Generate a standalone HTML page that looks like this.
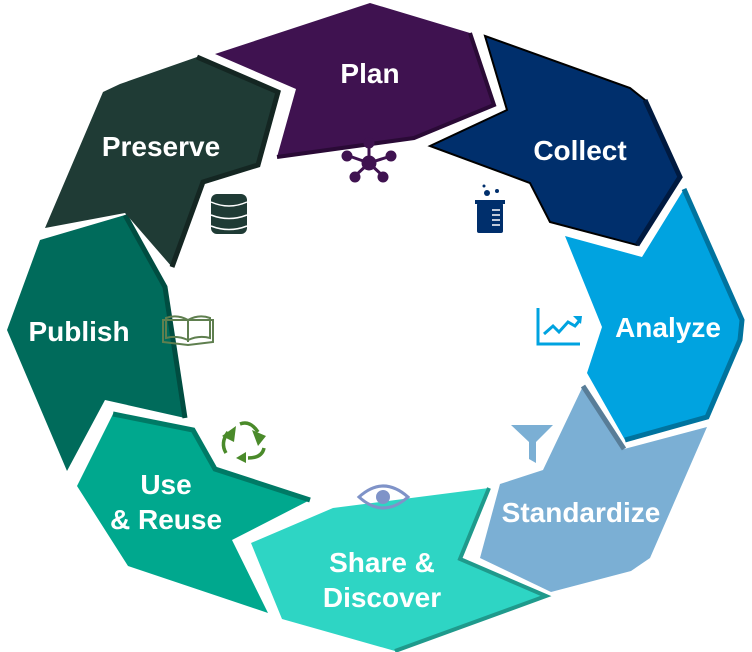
<!DOCTYPE html>
<html><head><meta charset="utf-8"><style>
html,body{margin:0;padding:0;background:#fff;width:752px;height:652px;overflow:hidden}
svg{display:block}
text{font-family:"Liberation Sans",Arial,sans-serif;font-weight:bold;font-size:28px;fill:#fff;text-anchor:middle}
</style></head><body>
<svg width="752" height="652" viewBox="0 0 752 652" xmlns="http://www.w3.org/2000/svg">
<!-- Plan -->
<polygon points="215,54 370,3 470,33 494,105 414,138 277,157 296,89" fill="#3F1250"/>
<polyline points="470,33 494,105 414,138 277,157" fill="none" stroke="#2a0a36" stroke-width="4"/>
<!-- Collect -->
<polygon points="485,36 630,88 645,100 680,177 637,245 550,222 530,183 430,146 507,110" fill="#002F6C" stroke="#000" stroke-width="2"/>
<polyline points="645,100 680,177 637,245" fill="none" stroke="#001a40" stroke-width="5"/>
<!-- Analyze -->
<polygon points="565,236 642,257 684,189 742,320 740,340 707,417 625,440 587,373 602,327" fill="#00A3E0"/>
<polyline points="684,189 742,320 740,340 707,417 625,440" fill="none" stroke="#00739e" stroke-width="5"/>
<!-- Standardize -->
<polygon points="583,386 624,449 707,427 650,558 631,571 551,592 480,558 500,484 543,470" fill="#7BAFD4"/>
<polyline points="583,386 624,449 M707,427 650,558 631,571 551,592" fill="none" stroke="#587d98" stroke-width="5"/>
<!-- Share & Discover -->
<polygon points="251,543 333,508 489,488 460,559 546,596 395,651 282,619" fill="#2ED5C4"/>
<polyline points="489,488 460,559 546,596 395,651" fill="none" stroke="#1f9a8c" stroke-width="4"/>
<!-- Use & Reuse -->
<polygon points="113,414 193,430 215,469 310,500 232,540 268,613 128,566 77,486" fill="#00A88E"/>
<polyline points="113,414 193,430 215,469 310,500 M232,540 268,613" fill="none" stroke="#007a66" stroke-width="5"/>
<!-- Publish -->
<polygon points="40,240 125,215 165,287 185,418 105,400 67,471 7,330" fill="#006B5B"/>
<polyline points="125,215 165,287 185,418 M105,400 67,471" fill="none" stroke="#004d41" stroke-width="5"/>
<!-- Preserve -->
<polygon points="45,228 103,92 120,84 197,57 278,92 258,165 203,182 172,267 125,213" fill="#1F3B35"/>
<polyline points="197,57 278,92 258,165 203,182 172,267 M125,205 45,228" fill="none" stroke="#142622" stroke-width="5"/>

<text x="370" y="83">Plan</text>
<text x="161" y="156">Preserve</text>
<text x="580" y="160">Collect</text>
<text x="79" y="341">Publish</text>
<text x="668" y="337">Analyze</text>
<text x="166" y="494">Use</text>
<text x="166" y="529">&amp; Reuse</text>
<text x="382" y="572">Share &amp;</text>
<text x="382" y="607">Discover</text>
<text x="581" y="522">Standardize</text>

<!-- network icon -->
<g stroke="#3F1250" stroke-width="3" fill="#3F1250">
<line x1="369" y1="163" x2="369" y2="145"/><line x1="369" y1="163" x2="349" y2="156"/><line x1="369" y1="163" x2="391" y2="156"/><line x1="369" y1="163" x2="355" y2="176"/><line x1="369" y1="163" x2="383" y2="176"/>
<circle cx="369" cy="163" r="6"/><circle cx="369" cy="143" r="4"/><circle cx="347" cy="156" r="4"/><circle cx="391" cy="156" r="4"/><circle cx="355" cy="177" r="4"/><circle cx="383" cy="177" r="4"/>
</g>
<!-- database -->
<g fill="#1F3B35"><rect x="211" y="194" width="36" height="40" rx="6"/></g>
<g stroke="#fff" stroke-width="1.5" fill="none"><path d="M211 202 Q229 210 247 202"/><path d="M211 215 Q229 222 247 215"/><path d="M211 226 Q229 233 247 226"/></g>
<!-- beaker -->
<g fill="#002F6C"><rect x="475" y="200" width="30" height="4"/><rect x="477" y="203" width="26" height="30" rx="2"/><circle cx="487" cy="193" r="3"/><circle cx="497" cy="191" r="2"/><circle cx="484" cy="186" r="1.5"/></g>
<g stroke="#fff" stroke-width="1.5"><line x1="492" y1="210" x2="500" y2="210"/><line x1="492" y1="215" x2="500" y2="215"/><line x1="492" y1="220" x2="500" y2="220"/><line x1="492" y1="225" x2="500" y2="225"/></g>
<!-- chart -->
<g fill="none" stroke="#00A3E0" stroke-width="3"><polyline points="538,308 538,344 580,344"/><polyline points="544,334 553,326 559,332 568,322 575,326 580,320"/></g>
<polygon points="573,316 582,316 581,324" fill="#00A3E0"/>
<!-- book -->
<g fill="none" stroke="#5f7f4f" stroke-width="2"><path d="M163 320 L163 342 L188 345 L213 342 L213 320 Z"/><path d="M166 318 Q177 314 188 320 Q199 314 210 318 L210 338 Q199 335 188 340 Q177 335 166 338 Z"/><line x1="188" y1="320" x2="188" y2="342"/></g>
<!-- recycle -->
<g fill="none" stroke="#4a8a2a" stroke-width="3.5"><path d="M226 453 Q220 443 228 432"/><path d="M240 424 Q250 420 258 432"/><path d="M264 448 Q262 458 248 458"/></g>
<g fill="#4a8a2a"><polygon points="222,436 236,426 234,442"/><polygon points="252,430 266,436 258,446"/><polygon points="246,452 246,463 236,458"/></g>
<!-- eye -->
<g fill="none" stroke="#7f93c8" stroke-width="3"><path d="M359 497 Q383 475 408 497 Q383 519 359 497 Z"/></g>
<circle cx="383" cy="497" r="7" fill="#7f93c8"/>
<!-- funnel -->
<polygon points="511,425 553,425 536,442 536,463 529,459 529,442" fill="#7BAFD4"/>
</svg>
</body></html>
